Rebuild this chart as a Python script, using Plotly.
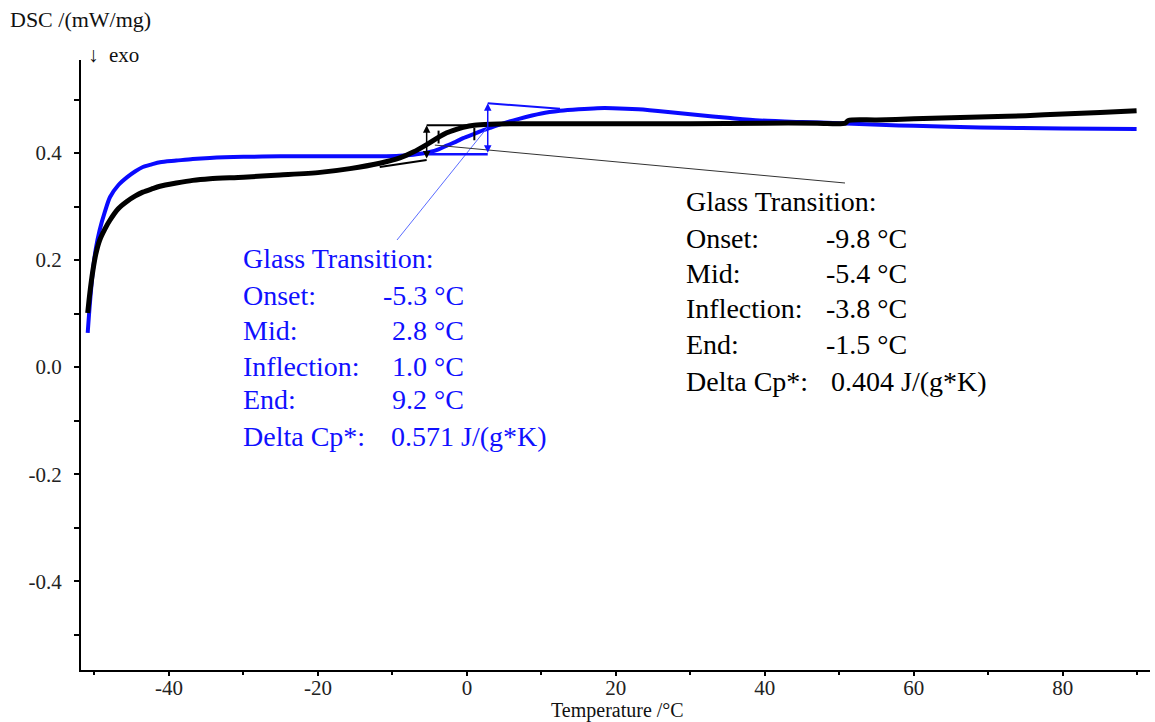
import plotly.graph_objects as go

# ---------------- data ----------------
black_T = [-50.9, -50.6, -50.2, -49.8, -49.3, -48.6, -47.9, -46.8, -45.6, -44.5, -43.5, -42.3,
           -41.2, -39.0, -36.8, -34.5, -30.0, -25.1, -19.7, -15.7, -11.7, -9.0, -7.2, -5.4,
           -4.0, -2.7, -1.5, -0.5, 1.0, 3.1, 6.0, 10.0, 20.0, 30.0, 40.0, 47.0, 50.8, 51.2,
           55.0, 60.0, 65.0, 70.0, 75.0, 80.0, 85.0, 89.9]
black_DSC = [0.101, 0.140, 0.181, 0.212, 0.237, 0.258, 0.275, 0.296, 0.310, 0.320, 0.327, 0.333,
             0.338, 0.344, 0.349, 0.352, 0.355, 0.359, 0.364, 0.371, 0.381, 0.391, 0.402, 0.416,
             0.428, 0.438, 0.444, 0.448, 0.452, 0.454, 0.455, 0.455, 0.455, 0.455, 0.456, 0.456,
             0.456, 0.461, 0.462, 0.464, 0.466, 0.468, 0.470, 0.473, 0.476, 0.479]

blue_T = [-50.9, -50.6, -50.2, -49.8, -49.3, -48.6, -47.9, -46.8, -45.6, -44.5, -43.5, -42.3,
          -41.2, -39.0, -36.8, -34.5, -30.0, -25.0, -20.0, -15.0, -11.7, -9.0, -7.2, -5.0,
          -3.8, -2.7, -1.5, -0.5, 1.0, 1.7, 3.1, 5.0, 7.0, 10.0, 12.5, 15.0, 17.5, 19.6, 23.0,
          27.0, 31.0, 35.0, 39.3, 45.0, 50.0, 55.4, 60.0, 68.9, 80.0, 89.9]
blue_DSC = [0.064, 0.120, 0.181, 0.222, 0.256, 0.290, 0.318, 0.340, 0.355, 0.366, 0.374, 0.379,
            0.383, 0.386, 0.389, 0.391, 0.393, 0.394, 0.394, 0.394, 0.394, 0.395, 0.397, 0.402,
            0.407, 0.414, 0.421, 0.428, 0.436, 0.440, 0.447, 0.456, 0.464, 0.474, 0.479, 0.482,
            0.484, 0.484, 0.482, 0.477, 0.471, 0.466, 0.461, 0.458, 0.456, 0.453, 0.451, 0.448,
            0.446, 0.445]

x_ticks = [-40, -20, 0, 20, 40, 60, 80]
x_tick_text = ["-40", "-20", "0", "20", "40", "60", "80"]
y_ticks = [-0.4, -0.2, 0.0, 0.2, 0.4]
y_tick_text = ["-0.4", "-0.2", "0.0", "0.2", "0.4"]
x_minor = [-50, -30, -10, 10, 30, 50, 70, 90]
y_minor = [-0.5, -0.3, -0.1, 0.1, 0.3, 0.5]

# evaluation values (construction lines)
black_eval = dict(mid=-5.4, infl=-3.8, base_start=-11.7, base_y0=0.374, base_y1=0.387,
                  top_y=0.452, top_end=2.7)
blue_eval = dict(mid=2.8, infl=1.0, base_start=-5.4, base_y=0.398, top_y=0.493,
                 tan_end=12.5, tan_y=0.483)

blue_labels = ["Glass Transition:", "Onset:", "Mid:", "Inflection:", "End:", "Delta Cp*:"]
blue_values = ["", "-5.3 °C", "2.8 °C", "1.0 °C", "9.2 °C", "0.571 J/(g*K)"]
black_labels = ["Glass Transition:", "Onset:", "Mid:", "Inflection:", "End:", "Delta Cp*:"]
black_values = ["", "-9.8 °C", "-5.4 °C", "-3.8 °C", "-1.5 °C", "0.404 J/(g*K)"]

# ---------------- layout geometry ----------------
W, H = 1155, 722
ML, MR, MT, MB = 81, 5, 60, 52
PW, PH = W - ML - MR, H - MT - MB
XR = [-51.8, 91.7]
YR = [-0.566, 0.574]

def px_x(px):
    return XR[0] + (px - ML) / PW * (XR[1] - XR[0])

def px_y(py):
    return YR[1] - (py - MT) / PH * (YR[1] - YR[0])

def paper_x(px):
    return (px - ML) / PW

def paper_y(py):
    return (H - MB - py) / PH

FONT = "Liberation Serif, Times New Roman, serif"
BLUE = "#1010ff"
BIG = 28
SMALL = 21

fig = go.Figure()
fig.add_trace(go.Scatter(x=blue_T, y=blue_DSC, mode="lines",
                         line=dict(color="#0a0aff", width=4, shape="spline", smoothing=0.8),
                         hoverinfo="skip", showlegend=False))
fig.add_trace(go.Scatter(x=black_T, y=black_DSC, mode="lines",
                         line=dict(color="#000000", width=5, shape="spline", smoothing=0.8),
                         hoverinfo="skip", showlegend=False))

shapes = []
def seg(x0, y0, x1, y1, color, width):
    shapes.append(dict(type="line", xref="x", yref="y", x0=x0, y0=y0, x1=x1, y1=y1,
                       line=dict(color=color, width=width), layer="above"))

# leader lines
seg(2.7, 0.447, px_x(397), px_y(240), "#5a6cff", 1)
seg(-4.3, 0.415, px_x(845), px_y(183), "#333333", 1)

# black construction
be = black_eval
seg(be["base_start"], be["base_y0"], be["mid"], be["base_y1"], "#000000", 2)
seg(be["mid"], be["top_y"], be["top_end"], be["top_y"], "#000000", 2)
seg(be["infl"], 0.418, be["infl"], 0.442, "#000000", 2)

# blue construction
bl = blue_eval
seg(bl["base_start"], bl["base_y"], bl["mid"], bl["base_y"], BLUE, 2.5)
seg(bl["mid"], bl["top_y"], bl["tan_end"], bl["tan_y"], BLUE, 2)
seg(bl["infl"], 0.424, bl["infl"], 0.447, "#000000", 2)

annotations = []
# vertical double arrows
annotations.append(dict(x=be["mid"], y=be["top_y"], ax=be["mid"], ay=be["base_y1"],
                        xref="x", yref="y", axref="x", ayref="y", text="", showarrow=True,
                        arrowhead=2, startarrowhead=2, arrowside="end+start", arrowsize=1,
                        arrowwidth=1.5, arrowcolor="#000000"))
annotations.append(dict(x=bl["mid"], y=bl["top_y"], ax=bl["mid"], ay=bl["base_y"],
                        xref="x", yref="y", axref="x", ayref="y", text="", showarrow=True,
                        arrowhead=2, startarrowhead=2, arrowside="end+start", arrowsize=1,
                        arrowwidth=1.5, arrowcolor=BLUE))

def text_block(labels, values, x_label_px, x_value_right_px, x_delta_px, rows_py, color):
    for i, (lab, val) in enumerate(zip(labels, values)):
        py = rows_py[i]
        annotations.append(dict(x=paper_x(x_label_px), y=paper_y(py), xref="paper", yref="paper",
                                text=lab, showarrow=False, xanchor="left", yanchor="middle",
                                font=dict(family=FONT, size=BIG, color=color)))
        if val:
            if "J/" in val:
                annotations.append(dict(x=paper_x(x_delta_px), y=paper_y(py), xref="paper",
                                        yref="paper", text=val, showarrow=False, xanchor="left",
                                        yanchor="middle", font=dict(family=FONT, size=BIG, color=color)))
            else:
                annotations.append(dict(x=paper_x(x_value_right_px), y=paper_y(py), xref="paper",
                                        yref="paper", text=val, showarrow=False, xanchor="right",
                                        yanchor="middle", font=dict(family=FONT, size=BIG, color=color)))

text_block(blue_labels, blue_values, 241, 466, 389, [258, 295, 330, 366, 400, 436], BLUE)
text_block(black_labels, black_values, 684, 909, 829, [201, 238, 273, 308, 344, 381], "#000000")

# axis titles
annotations.append(dict(x=paper_x(8), y=paper_y(20), xref="paper", yref="paper",
                        text="DSC /(mW/mg)", showarrow=False, xanchor="left", yanchor="middle",
                        font=dict(family=FONT, size=22, color="#111111")))
annotations.append(dict(x=paper_x(86), y=paper_y(55), xref="paper", yref="paper",
                        text="↓  exo", showarrow=False, xanchor="left", yanchor="middle",
                        font=dict(family=FONT, size=21, color="#111111")))
annotations.append(dict(x=paper_x(617), y=paper_y(710), xref="paper", yref="paper",
                        text="Temperature /°C", showarrow=False, xanchor="center", yanchor="middle",
                        font=dict(family=FONT, size=20, color="#111111")))

fig.update_layout(
    width=W, height=H,
    margin=dict(l=ML, r=MR, t=MT, b=MB),
    paper_bgcolor="white", plot_bgcolor="white",
    showlegend=False,
    shapes=shapes, annotations=annotations,
    font=dict(family=FONT, size=SMALL, color="#222222"),
)
fig.update_xaxes(range=XR, showgrid=False, zeroline=False, showline=True, linecolor="#000000",
                 linewidth=2, ticks="outside", ticklen=4, tickwidth=1.5, tickcolor="#000000",
                 tickmode="array", tickvals=x_ticks, ticktext=x_tick_text, ticklabelstandoff=-6,
                 tickfont=dict(family=FONT, size=SMALL, color="#222222"),
                 minor=dict(tickvals=x_minor, ticks="outside", ticklen=3, tickcolor="#000000",
                            tickwidth=1.5, showgrid=False))
fig.update_yaxes(range=YR, showgrid=False, zeroline=False, showline=True, linecolor="#000000",
                 linewidth=2, ticks="outside", ticklen=5, tickwidth=1.5, tickcolor="#000000",
                 tickmode="array", tickvals=y_ticks, ticktext=y_tick_text, ticklabelstandoff=8,
                 tickfont=dict(family=FONT, size=SMALL, color="#222222"),
                 minor=dict(tickvals=y_minor, ticks="outside", ticklen=5, tickcolor="#000000",
                            tickwidth=1.5, showgrid=False))

fig.write_html("out.html")
